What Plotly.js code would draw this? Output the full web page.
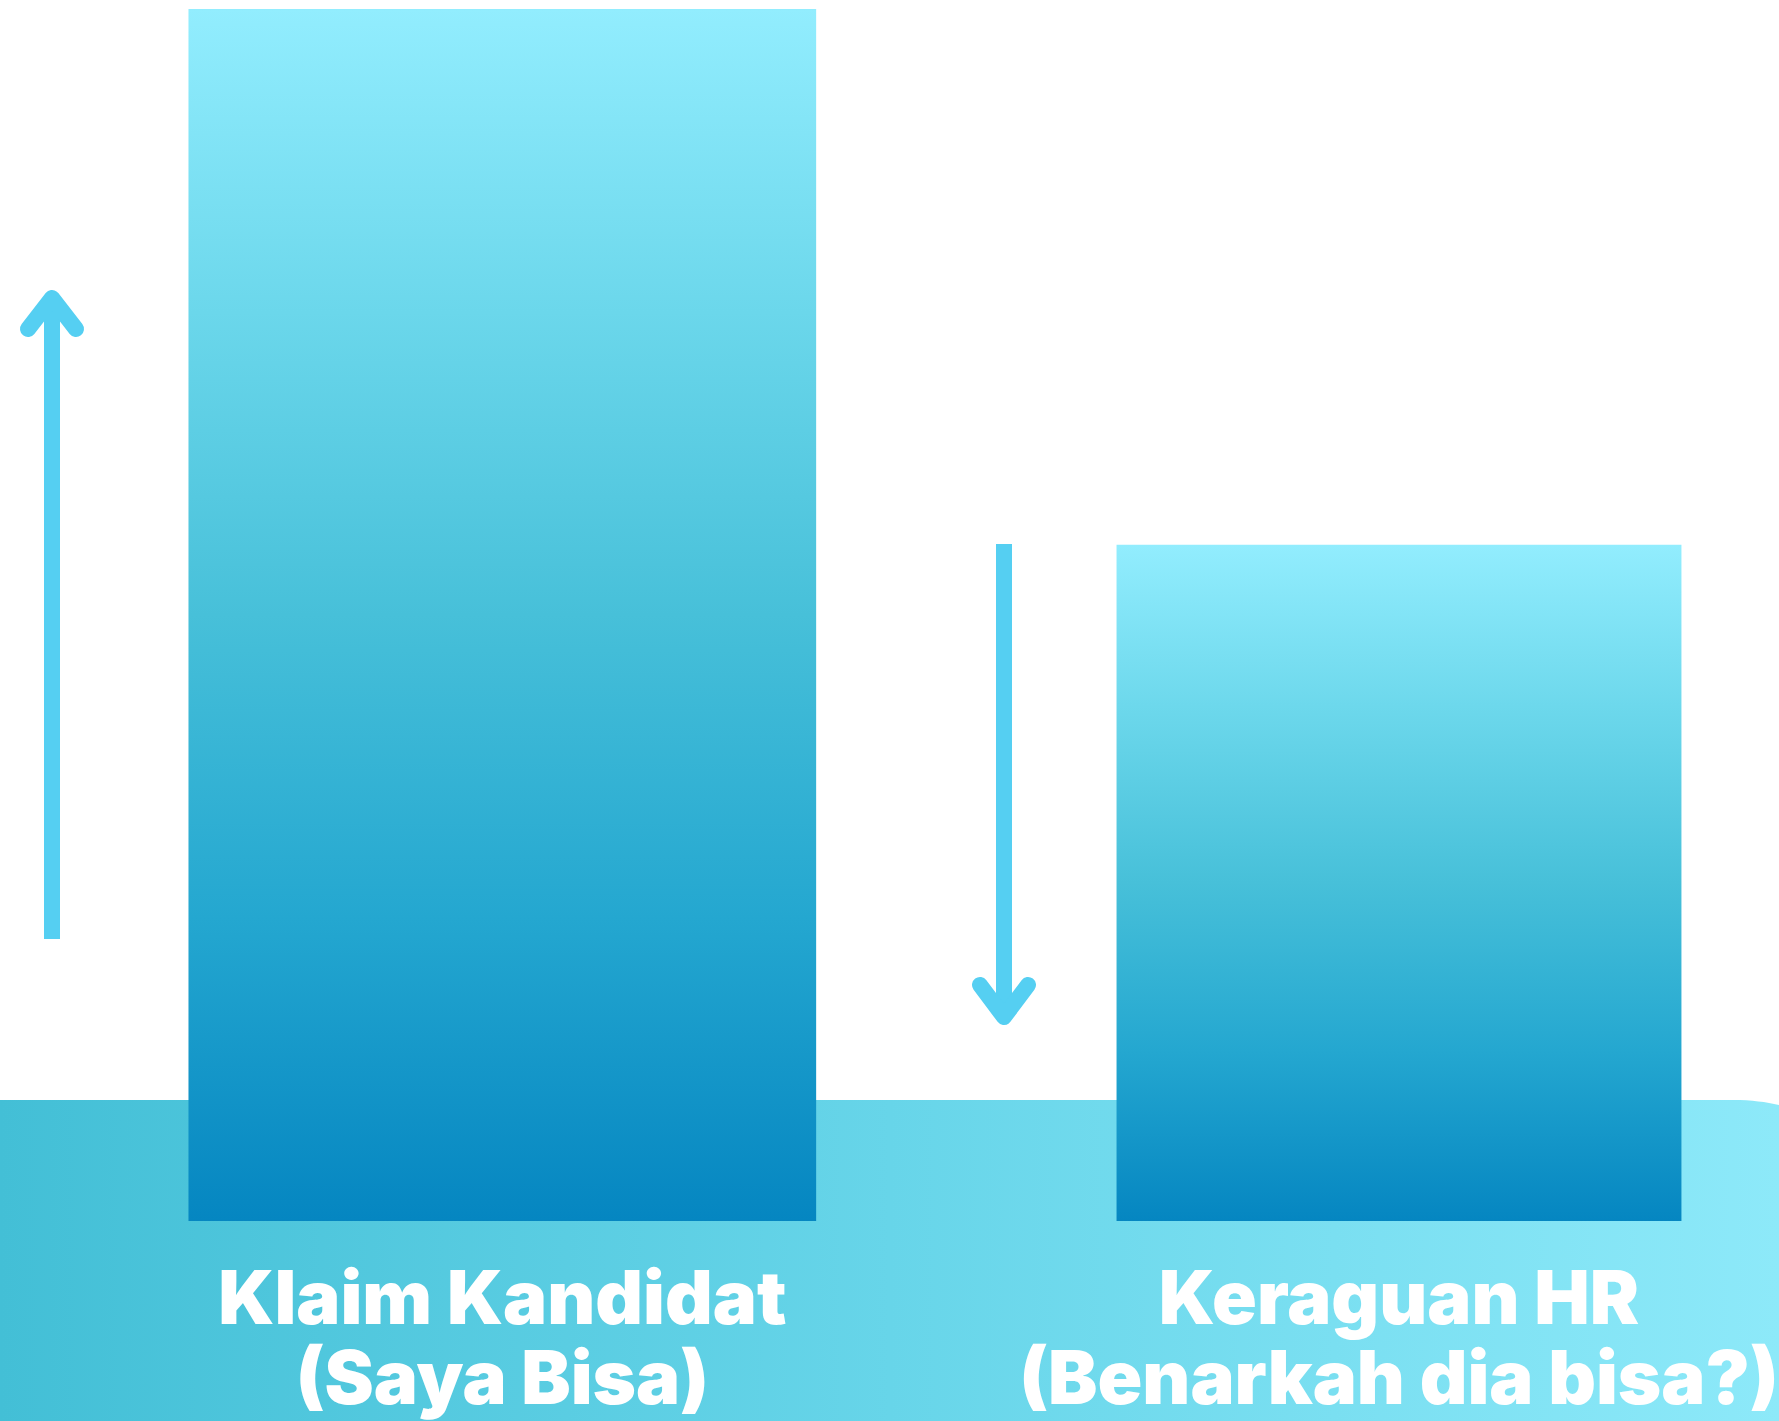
<!DOCTYPE html>
<html>
<head>
<meta charset="utf-8">
<script src="https://cdn.plot.ly/plotly-3.0.1.min.js"></script>
<style>
  html, body { margin: 0; padding: 0; background: #ffffff; }
  #chart { width: 1779px; height: 1421px; }
</style>
</head>
<body>
<div id="chart"></div>
<script>
// ---- data ----
const categories = ['Klaim Kandidat', 'Keraguan HR'];
const subLabels = ['(Saya Bisa)', '(Benarkah dia bisa?)'];
const values = [100, 55.8];
const positions = [0, 1];
const barWidths = [0.7, 0.63];

// ---- layout helpers (pixel -> paper) ----
const W = 1779, H = 1421;
const M = { l: 0, r: 0, t: 9, b: 200 };
const plotH = H - M.t - M.b;
const px = p => p / W;
const py = p => (H - M.b - p) / plotH;

const arrowColor = '#55CFF2';

function chevron(points) {
  return 'M ' + points.map(([a, b]) => px(a) + ',' + py(b)).join(' L ');
}

const bandPath = 'M ' + px(0) + ',' + py(1100) +
  ' L ' + px(1733) + ',' + py(1100) +
  ' C ' + px(1752) + ',' + py(1100) + ' ' + px(1766) + ',' + py(1102) + ' ' + px(1779) + ',' + py(1105) +
  ' L ' + px(1779) + ',' + py(1421) +
  ' L ' + px(0) + ',' + py(1421) + ' Z';

const shapes = [
  { type: 'path', xref: 'paper', yref: 'paper', path: bandPath, fillcolor: '#66D4E8', line: { width: 0 }, layer: 'below' },
  { type: 'line', xref: 'paper', yref: 'paper', x0: px(52), x1: px(52), y0: py(939), y1: py(300), line: { color: arrowColor, width: 16 } },
  { type: 'path', xref: 'paper', yref: 'paper', path: chevron([[28, 329], [52, 298], [76, 329]]), fillcolor: 'rgba(0,0,0,0)', line: { color: arrowColor, width: 16 } },
  { type: 'line', xref: 'paper', yref: 'paper', x0: px(1004), x1: px(1004), y0: py(544), y1: py(1012), line: { color: arrowColor, width: 16 } },
  { type: 'path', xref: 'paper', yref: 'paper', path: chevron([[980, 985], [1004, 1017], [1028, 985]]), fillcolor: 'rgba(0,0,0,0)', line: { color: arrowColor, width: 16 } }
];

const trace = {
  type: 'bar',
  x: positions,
  y: values,
  width: barWidths,
  marker: { color: '#45BFD8', line: { width: 0 } },
  hoverinfo: 'skip'
};

const layout = {
  width: W, height: H,
  margin: M,
  paper_bgcolor: '#ffffff',
  plot_bgcolor: 'rgba(0,0,0,0)',
  showlegend: false,
  xaxis: {
    range: [-0.5602, 1.4238],
    tickvals: positions,
    ticktext: categories.map((c, i) => c + '<br>' + subLabels[i]),
    tickfont: { family: 'Inter, "Open Sans", sans-serif', size: 74, color: '#ffffff', weight: 900 },
    ticklabelstandoff: 28,
    showgrid: false, zeroline: false, showline: false, ticks: '',
    fixedrange: true
  },
  yaxis: { range: [0, 100], visible: false, fixedrange: true },
  shapes: shapes
};

Plotly.newPlot('chart', [trace], layout, { displayModeBar: false, staticPlot: true }).then(() => {
  const svgNS = 'http://www.w3.org/2000/svg';
  const svg = document.querySelector('#chart .main-svg');
  let defs = svg.querySelector('defs');
  if (!defs) { defs = document.createElementNS(svgNS, 'defs'); svg.insertBefore(defs, svg.firstChild); }

  function grad(id, x2, y2, stops) {
    const g = document.createElementNS(svgNS, 'linearGradient');
    g.setAttribute('id', id);
    g.setAttribute('x1', '0'); g.setAttribute('y1', '0');
    g.setAttribute('x2', x2); g.setAttribute('y2', y2);
    stops.forEach(([o, c]) => {
      const s = document.createElementNS(svgNS, 'stop');
      s.setAttribute('offset', o);
      s.setAttribute('stop-color', c);
      g.appendChild(s);
    });
    defs.appendChild(g);
  }
  grad('barGrad', '0', '1', [[0, '#92EDFE'], [0.25, '#6BD7EB'], [0.5, '#47C0D9'], [0.75, '#24A7D0'], [1, '#0586C1']]);
  grad('bandGrad', '1', '0', [[0, '#43BFD6'], [0.5, '#67D5E9'], [1, '#8DE9F9']]);

  document.querySelectorAll('#chart .barlayer .point path').forEach(p => { p.style.fill = 'url(#barGrad)'; });
  document.querySelectorAll('#chart .shapelayer path').forEach(p => {
    const idx = p.getAttribute('data-index');
    if (idx === '0') p.style.fill = 'url(#bandGrad)';
    if (idx === '2' || idx === '4') { p.style.strokeLinecap = 'round'; p.style.strokeLinejoin = 'round'; }
  });
  document.querySelectorAll('#chart .xtick text tspan.line').forEach(t => {
    const dy = t.getAttribute('dy');
    if (dy && parseFloat(dy) > 0) t.setAttribute('dy', '1.08em');
  });
});
</script>
</body>
</html>
